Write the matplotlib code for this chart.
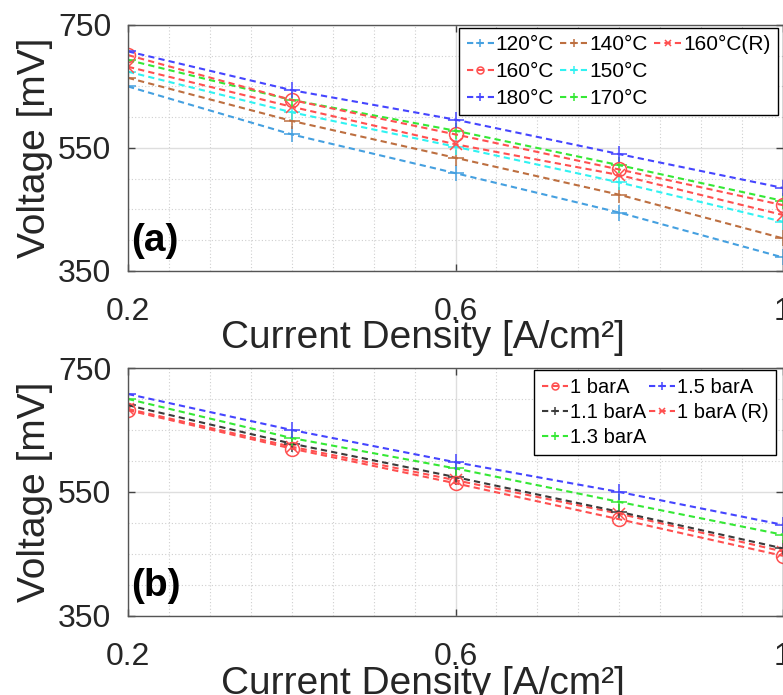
import numpy as np
import matplotlib.pyplot as plt
from matplotlib.lines import Line2D
from matplotlib.ticker import MultipleLocator

plt.rcParams['font.family'] = ['Liberation Sans', 'DejaVu Sans']

# current density points [A/cm²]
current = [0.2, 0.4, 0.6, 0.8, 1.0]

# (a) temperature sweep, voltage in mV
v_120 = [650, 572, 509, 445, 372]
v_140 = [664, 594, 534, 474, 403]
v_150 = [674, 608, 552, 494, 430]
v_160 = [701, 628, 572, 515, 457]
v_160r = [682, 617, 556, 506, 441]
v_170 = [693, 628, 578, 522, 464]
v_180 = [707, 644, 596, 540, 485]

# (b) pressure sweep, voltage in mV
p_1 = [682, 620, 564, 506, 447]
p_1r = [684, 623, 569, 515, 454]
p_11 = [690, 628, 574, 518, 459]
p_13 = [700, 637, 588, 534, 481]
p_15 = [708, 650, 598, 550, 497]

fig = plt.figure(figsize=(7.83, 6.95), dpi=100)
ax_a = fig.add_axes([0.1635, 0.6101, 0.8365, 0.354])
ax_b = fig.add_axes([0.1635, 0.1137, 0.8365, 0.3568])


def curve(ax, y, color, marker, label, ms=11):
    ln, = ax.plot(current, y, color=color, marker=marker, ms=ms, mew=1.1,
                  mfc='none', lw=1.5, label=label)
    ln.set_dashes((3, 2))
    return ln


h120 = curve(ax_a, v_120, '#45a0e0', '+', '120°C')
h140 = curve(ax_a, v_140, '#bd6f40', '+', '140°C')
h150 = curve(ax_a, v_150, '#30f2f2', '+', '150°C')
h160r = curve(ax_a, v_160r, '#ff5050', 'x', '160°C(R)', ms=9)
h170 = curve(ax_a, v_170, '#35e835', '+', '170°C')
h160 = curve(ax_a, v_160, '#ff5050', 'o', '160°C', ms=10)
h180 = curve(ax_a, v_180, '#4545ff', '+', '180°C', ms=12)

g1r = curve(ax_b, p_1r, '#ff5050', 'x', '1 barA (R)', ms=9)
g11 = curve(ax_b, p_11, '#3a3a3a', '+', '1.1 barA')
g13 = curve(ax_b, p_13, '#35e835', '+', '1.3 barA')
g15 = curve(ax_b, p_15, '#4545ff', '+', '1.5 barA')
g1 = curve(ax_b, p_1, '#ff5050', 'o', '1 barA', ms=10)

for ax in (ax_a, ax_b):
    ax.set_xlim(0.2, 1.0)
    ax.set_ylim(350, 750)
    ax.set_xticks([0.2, 0.6, 1.0])
    ax.set_xticklabels(['0.2', '0.6', '1'])
    ax.set_yticks([350, 550, 750])
    ax.xaxis.set_minor_locator(MultipleLocator(0.05))
    ax.yaxis.set_minor_locator(MultipleLocator(50))
    ax.grid(which='major', color='#dedede', lw=1.0, ls='-')
    ax.grid(which='minor', color='#cfcfcf', lw=0.8, ls=(0, (1, 2)))
    ax.set_axisbelow(True)
    ax.tick_params(which='major', direction='in', length=5, width=1,
                   color='#444444', top=True, right=True, labelsize=23,
                   labelcolor='#262626')
    ax.tick_params(axis='x', pad=19)
    ax.tick_params(axis='y', pad=12)
    ax.tick_params(which='minor', length=0)
    for sp in ax.spines.values():
        sp.set_color('#555555')
        sp.set_linewidth(1.0)
    ax.set_xlabel('Current Density [A/cm²]', fontsize=28, color='#262626')
    ax.set_ylabel('Voltage [mV]', fontsize=28, color='#262626')
    ax.xaxis.set_label_coords(0.45, -0.2)
    ax.yaxis.set_label_coords(-0.115, 0.5)

ax_a.text(0.005, 0.05, '(a)', transform=ax_a.transAxes, fontsize=28,
          fontweight='bold', ha='left', va='bottom')
ax_b.text(0.005, 0.05, '(b)', transform=ax_b.transAxes, fontsize=28,
          fontweight='bold', ha='left', va='bottom')

blank = Line2D([], [], linestyle='none')
leg_a = ax_a.legend([h120, h160, h180, h140, h150, h170, h160r, blank, blank],
                    ['120°C', '160°C', '180°C', '140°C', '150°C', '170°C',
                     '160°C(R)', '', ''],
                    ncol=3, loc='upper right', bbox_to_anchor=(0.9924, 0.9878),
                    fontsize=15, handlelength=1.3, handletextpad=0.1,
                    columnspacing=0.3, labelspacing=0.38, borderpad=0.35,
                    borderaxespad=0, markerscale=0.5, fancybox=False,
                    framealpha=1, edgecolor='black')
leg_a.get_frame().set_linewidth(1.0)

leg_b = ax_b.legend([g1, g11, g13, g15, g1r],
                    ['1 barA', '1.1 barA', '1.3 barA', '1.5 barA', '1 barA (R)'],
                    ncol=2, loc='upper right', bbox_to_anchor=(0.990, 0.992),
                    fontsize=14.5, handlelength=1.3, handletextpad=0.08,
                    columnspacing=0.15, labelspacing=0.3, borderpad=0.4,
                    borderaxespad=0, markerscale=0.5, fancybox=False,
                    framealpha=1, edgecolor='black')
leg_b.get_frame().set_linewidth(1.0)

fig.savefig('out.png', dpi=100)
